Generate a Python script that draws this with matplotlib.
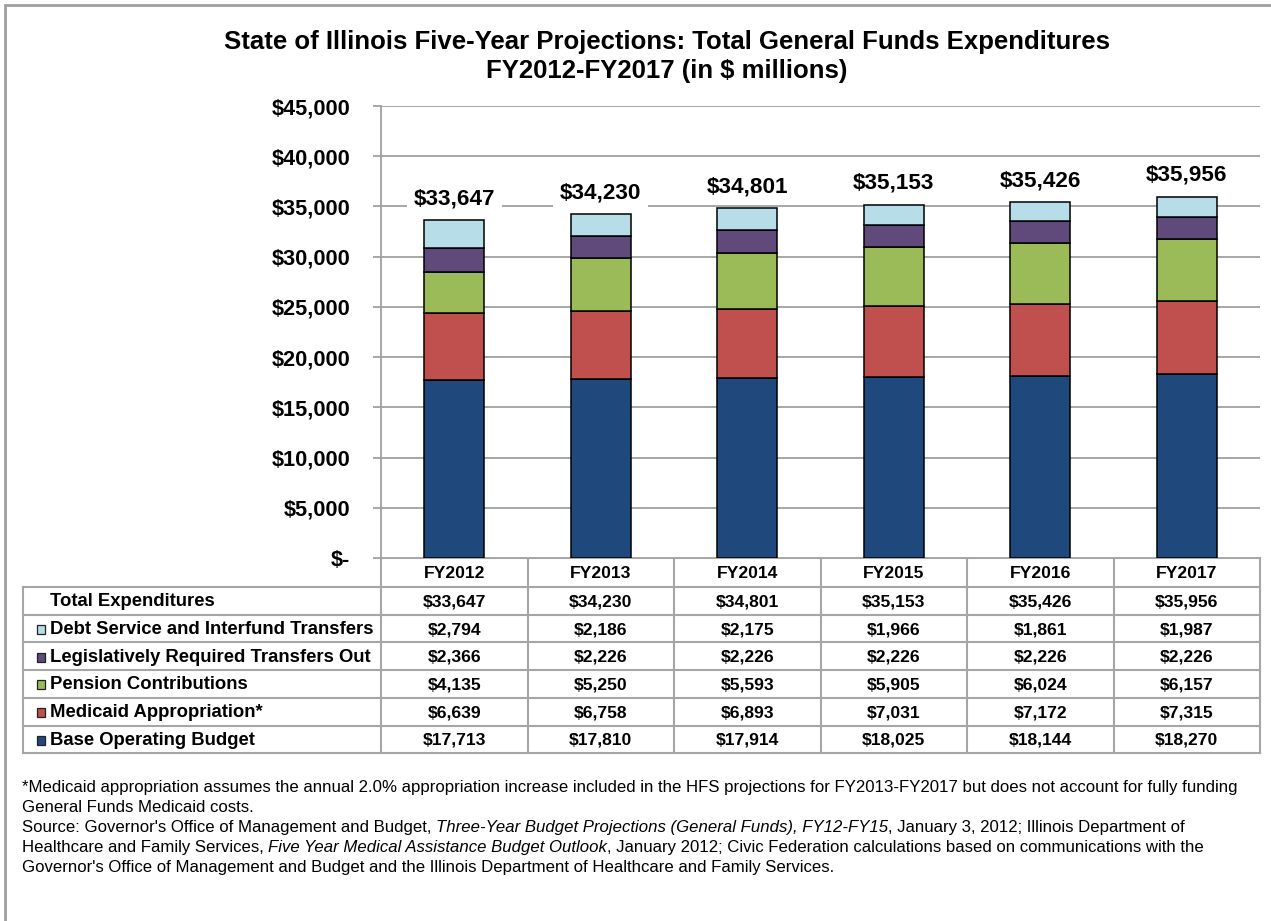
import matplotlib
matplotlib.use("Agg")
import matplotlib.pyplot as plt
from matplotlib.patches import Rectangle

plt.rcParams['font.family'] = ['Liberation Sans', 'DejaVu Sans']

years = ["FY2012", "FY2013", "FY2014", "FY2015", "FY2016", "FY2017"]
base = [17713, 17810, 17914, 18025, 18144, 18270]
medicaid = [6639, 6758, 6893, 7031, 7172, 7315]
pension = [4135, 5250, 5593, 5905, 6024, 6157]
legis = [2366, 2226, 2226, 2226, 2226, 2226]
debt = [2794, 2186, 2175, 1966, 1861, 1987]
totals = [33647, 34230, 34801, 35153, 35426, 35956]

series_names = ["Base Operating Budget", "Medicaid Appropriation*", "Pension Contributions",
                "Legislatively Required Transfers Out", "Debt Service and Interfund Transfers"]
series_vals = [base, medicaid, pension, legis, debt]
colors = ["#1F497D", "#C0504D", "#9BBB59", "#604A7B", "#B7DEE8"]

yticks = list(range(0, 45001, 5000))

W, H = 1271, 921
fig = plt.figure(figsize=(W / 100, H / 100), dpi=100)
fig.patch.set_facecolor("white")

# pixel layout
ax_l, ax_r, ax_t, ax_b = 381, 1260, 106, 558
ax = fig.add_axes([ax_l / W, 1 - ax_b / H, (ax_r - ax_l) / W, (ax_b - ax_t) / H])
ax.set_xlim(0, len(years))
ax.set_ylim(0, 45000)
xs = [i + 0.5 for i in range(len(years))]
bottom = [0] * len(years)
for vals, col in zip(series_vals, colors):
    ax.bar(xs, vals, 0.41, bottom=bottom, color=col, edgecolor="black", linewidth=1.1, zorder=3)
    bottom = [b + v for b, v in zip(bottom, vals)]

for x, t in zip(xs, totals):
    ax.annotate(f"${t:,}", (x, t), xytext=(0, 15.5), textcoords="offset points",
                ha="center", va="center", fontsize=16.2, fontweight="bold", zorder=4,
                bbox=dict(boxstyle="square,pad=0.3", fc="white", ec="none"))

ax.set_yticks(yticks)
ax.set_yticklabels(["$-"] + [f"${v:,}" for v in yticks[1:]], fontsize=15.7, fontweight="bold")
ax.tick_params(axis="y", direction="out", length=6, width=1.3, color="#A0A0A0", pad=16)
ax.set_xticks([])
ax.yaxis.grid(True, color="#A0A0A0", linewidth=1.3, zorder=0)
ax.set_axisbelow(True)
for s in ["top", "right", "bottom"]:
    ax.spines[s].set_visible(False)
ax.spines["left"].set_color("#A0A0A0")
ax.spines["left"].set_linewidth(1.3)

# overlay for table, title, footnotes, frame
ov = fig.add_axes([0, 0, 1, 1], zorder=-1)
ov.set_xlim(0, W)
ov.set_ylim(H, 0)
ov.axis("off")

gcol = "#A6A6A6"
# outer frame
ov.plot([5, 5, W], [H, 5, 5], color="#A0A0A0", lw=2.0, solid_joinstyle="miter")

# title
ov.text(667, 42, "State of Illinois Five-Year Projections: Total General Funds Expenditures",
        ha="center", va="center", fontsize=18.5, fontweight="bold")
ov.text(667, 71, "FY2012-FY2017 (in $ millions)", ha="center", va="center",
        fontsize=18.5, fontweight="bold")

# table
tl, tr = 23, ax_r
colw = (ax_r - ax_l) / len(years)
hdr_top, hdr_bot = 558, 587
rowh = 27.7
n_rows = 6
ov.plot([ax_l, tr], [hdr_top, hdr_top], color=gcol, lw=1.5)
for k in range(n_rows + 1):
    y = hdr_bot + k * rowh
    ov.plot([tl, tr], [y, y], color=gcol, lw=1.5)
ov.plot([tl, tl], [hdr_bot, hdr_bot + n_rows * rowh], color=gcol, lw=1.5)
for i in range(len(years) + 1):
    x = ax_l + i * colw
    ov.plot([x, x], [hdr_top, hdr_bot + n_rows * rowh], color=gcol, lw=1.5)

for i, yr in enumerate(years):
    ov.text(ax_l + (i + 0.5) * colw, (hdr_top + hdr_bot) / 2 + 1, yr, ha="center", va="center",
            fontsize=12.6, fontweight="bold")

row_labels = ["Total Expenditures"] + series_names[::-1]
row_vals = [totals] + series_vals[::-1]
row_cols = [None] + colors[::-1]
for r, (lab, vals, col) in enumerate(zip(row_labels, row_vals, row_cols)):
    yc = hdr_bot + (r + 0.5) * rowh + 1
    if col is not None:
        ov.add_patch(Rectangle((37, yc - 4.5), 8, 9, facecolor=col, edgecolor="#222222", lw=0.9))
    ov.text(50, yc, lab, ha="left", va="center", fontsize=13.3, fontweight="bold")
    for i, v in enumerate(vals):
        ov.text(ax_l + (i + 0.5) * colw, yc, f"${v:,}", ha="center", va="center",
                fontsize=12.6, fontweight="bold")

# footnotes with mixed styles
fig.canvas.draw()
renderer = fig.canvas.get_renderer()
fs = 12.1
lines = [
    [("*Medicaid appropriation assumes the annual 2.0% appropriation increase included in the HFS projections for FY2013-FY2017 but does not account for fully funding", "normal")],
    [("General Funds Medicaid costs.", "normal")],
    [("Source: Governor's Office of Management and Budget, ", "normal"),
     ("Three-Year Budget Projections (General Funds), FY12-FY15", "italic"),
     (", January 3, 2012; Illinois Department of", "normal")],
    [("Healthcare and Family Services, ", "normal"),
     ("Five Year Medical Assistance Budget Outlook", "italic"),
     (", January 2012; Civic Federation calculations based on communications with the", "normal")],
    [("Governor's Office of Management and Budget and the Illinois Department of Healthcare and Family Services.", "normal")],
]
y0, dy = 787, 20
for li, segs in enumerate(lines):
    x = 22
    y = y0 + li * dy
    for txt, style in segs:
        t = ov.text(x, y, txt, ha="left", va="center", fontsize=fs, style=style)
        bb = t.get_window_extent(renderer=renderer)
        x += bb.width

fig.savefig("out.png", dpi=100, facecolor="white")
